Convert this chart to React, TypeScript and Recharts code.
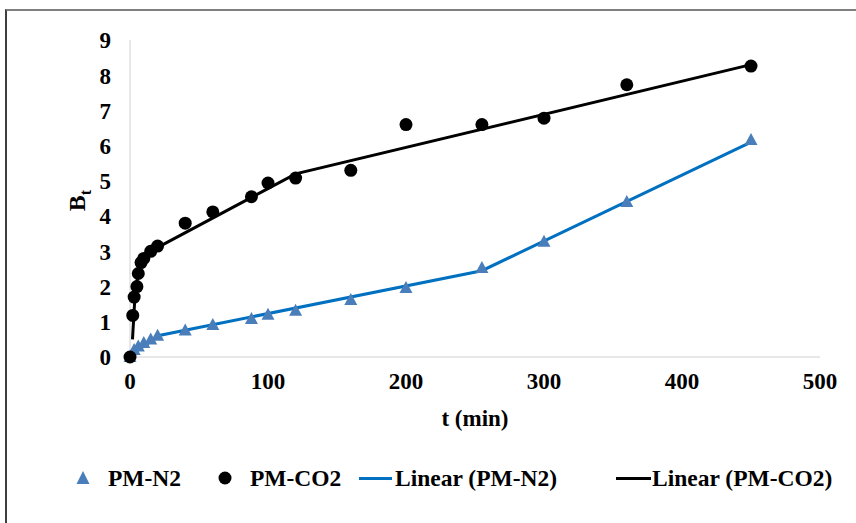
import React from 'react';
import { ComposedChart, Scatter, Line, XAxis, YAxis } from 'recharts';

// PM-N2 measurements (t in min, Bt)
const n2Time = [0, 3, 6, 10, 15, 20, 40, 60, 88, 100, 120, 160, 200, 255, 300, 360, 450];
const n2Bt = [0, 0.2, 0.3, 0.4, 0.5, 0.6, 0.75, 0.91, 1.08, 1.2, 1.31, 1.62, 1.96, 2.53, 3.27, 4.4, 6.16];

// PM-CO2 measurements
const co2Time = [0, 2, 3, 5, 6, 8, 10, 15, 20, 40, 60, 88, 100, 120, 160, 200, 255, 300, 360, 450];
const co2Bt = [0, 1.18, 1.7, 2.0, 2.37, 2.68, 2.8, 3.0, 3.15, 3.8, 4.12, 4.55, 4.94, 5.08, 5.3, 6.6, 6.6, 6.78, 7.73, 8.26];

// piecewise linear trendlines
const fitN2Time = [0, 22, 255, 450];
const fitN2Bt = [0.05, 0.62, 2.45, 6.1];
const fitCo2Time = [1.8, 4, 10, 120, 450];
const fitCo2Bt = [0.5, 2.0, 2.9, 5.2, 8.3];

const xTicks = [0, 100, 200, 300, 400, 500];
const yTicks = [0, 1, 2, 3, 4, 5, 6, 7, 8, 9];

const zip = (ts: number[], ys: number[]) => ts.map((t, i) => ({ t, y: ys[i] }));
const n2Data = zip(n2Time, n2Bt);
const co2Data = zip(co2Time, co2Bt);
const fitN2 = zip(fitN2Time, fitN2Bt);
const fitCo2 = zip(fitCo2Time, fitCo2Bt);

const FONT = 'Liberation Serif';
const TRI = '#4A7EBB';
const BLUE = '#0070C0';

const XTick = ({ x, y, payload }: any) => (
  <text x={x} y={y} dy="0.72em" textAnchor="middle" fontFamily={FONT} fontWeight={700} fontSize={23} fill="#000">
    {payload.value}
  </text>
);
const YTick = ({ x, y, payload }: any) => (
  <text x={x} y={y} dy="0.36em" textAnchor="end" fontFamily={FONT} fontWeight={700} fontSize={23} fill="#000">
    {payload.value}
  </text>
);

const Triangle = (p: any) => (
  <polygon points={`${p.cx},${p.cy - 7} ${p.cx + 6.5},${p.cy + 5} ${p.cx - 6.5},${p.cy + 5}`} fill={TRI} />
);
const Dot = (p: any) => <circle cx={p.cx} cy={p.cy} r={6.5} fill="#000" />;

const YLabel = ({ viewBox }: any) => {
  const cx = viewBox.x + viewBox.width - 45;
  const cy = viewBox.y + viewBox.height / 2 + 2;
  return (
    <text x={cx} y={cy} transform={`rotate(-90 ${cx} ${cy})`} textAnchor="middle" fontFamily={FONT} fontWeight={700} fontSize={24} fill="#000">
      <tspan>B</tspan>
      <tspan dy={6} fontSize={16}>t</tspan>
    </text>
  );
};

const XLabel = ({ viewBox }: any) => (
  <text x={viewBox.x + viewBox.width / 2} y={viewBox.y + 69} textAnchor="middle" fontFamily={FONT} fontWeight={700} fontSize={23} fill="#000">
    t (min)
  </text>
);

const legendText: React.CSSProperties = { position: 'absolute', top: 0, fontFamily: FONT, fontWeight: 700, fontSize: 23.5, lineHeight: '30px', color: '#000', whiteSpace: 'nowrap' };

export default function App() {
  return (
    <div style={{ position: 'absolute', left: 0, top: 0, width: 856, height: 523, background: '#fff', overflow: 'hidden' }}>
      <div style={{ position: 'absolute', left: 5, top: 9, width: 900, height: 600, borderTop: '2px solid #7f7f7f', borderLeft: '2px solid #3f3f3f' }} />
      <ComposedChart width={856} height={523} margin={{ top: 40, right: 36, bottom: 96, left: 0 }} style={{ position: 'absolute', left: 0, top: 0 }}>
        <XAxis
          dataKey="t"
          type="number"
          domain={[0, 500]}
          ticks={xTicks}
          height={70}
          axisLine={{ stroke: '#D0D0D0' }}
          tickLine={false}
          tickSize={0}
          tickMargin={15}
          tick={<XTick />}
          label={<XLabel />}
        />
        <YAxis
          dataKey="y"
          type="number"
          domain={[0, 9]}
          ticks={yTicks}
          width={130}
          axisLine={{ stroke: '#D0D0D0' }}
          tickLine={false}
          tickSize={0}
          tickMargin={19}
          tick={<YTick />}
          label={<YLabel />}
        />
        <Scatter data={n2Data} dataKey="y" shape={Triangle} isAnimationActive={false} />
        <Scatter data={co2Data} dataKey="y" shape={Dot} isAnimationActive={false} />
        <Line data={fitN2} dataKey="y" type="linear" stroke={BLUE} strokeWidth={3} dot={false} activeDot={false} isAnimationActive={false} />
        <Line data={fitCo2} dataKey="y" type="linear" stroke="#000" strokeWidth={3} dot={false} activeDot={false} isAnimationActive={false} />
      </ComposedChart>
      <div style={{ position: 'absolute', left: 0, top: 463, width: 856, height: 30 }}>
        <svg style={{ position: 'absolute', left: 76, top: 8 }} width={14} height={14}>
          <polygon points="7,0 13.5,13 0.5,13" fill={TRI} />
        </svg>
        <span style={{ ...legendText, left: 108 }}>PM-N2</span>
        <svg style={{ position: 'absolute', left: 218, top: 8 }} width={14} height={14}>
          <circle cx={7} cy={7} r={6.5} fill="#000" />
        </svg>
        <span style={{ ...legendText, left: 250 }}>PM-CO2</span>
        <div style={{ position: 'absolute', left: 359, top: 14, width: 33, height: 3, background: BLUE }} />
        <span style={{ ...legendText, left: 395 }}>Linear (PM-N2)</span>
        <div style={{ position: 'absolute', left: 616, top: 14, width: 35, height: 3, background: '#000' }} />
        <span style={{ ...legendText, left: 652 }}>Linear (PM-CO2)</span>
      </div>
    </div>
  );
}
